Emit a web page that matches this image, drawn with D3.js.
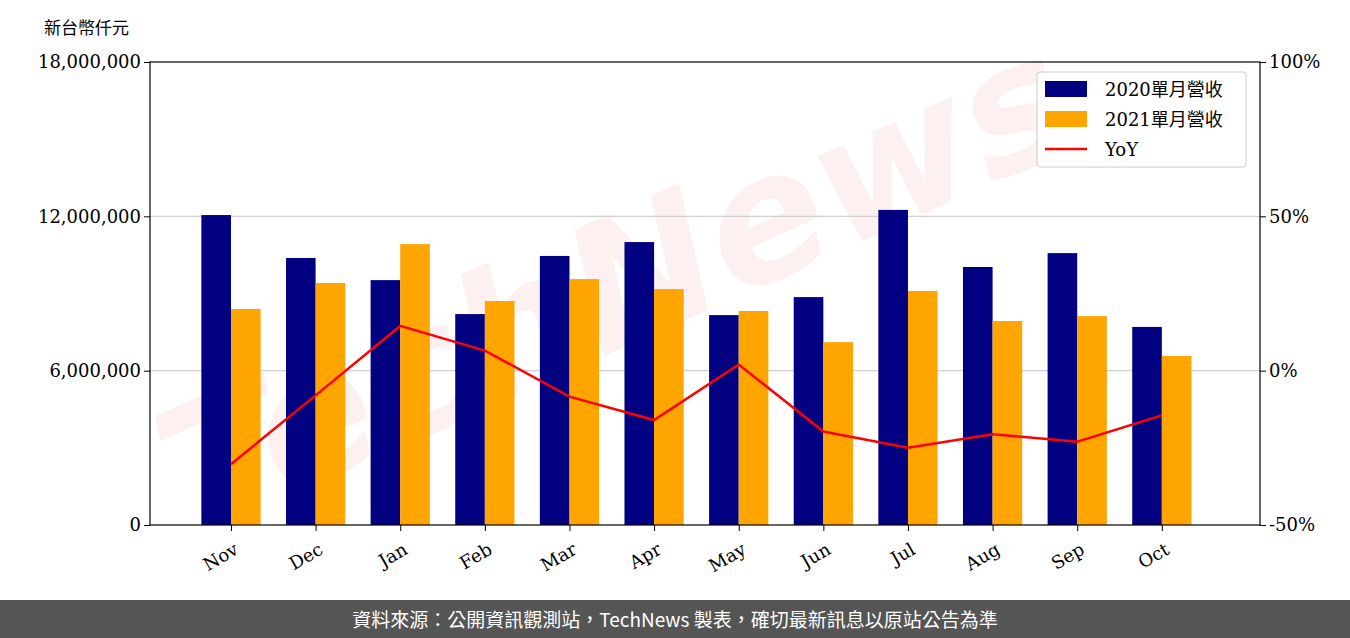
<!DOCTYPE html>
<html><head><meta charset="utf-8">
<script src="https://cdn.jsdelivr.net/npm/d3@7"></script>
<style>body{margin:0;background:#fff}text{font-family:"DejaVu Serif",serif}</style>
</head><body><svg id="c" width="1350" height="638"></svg>
<script>
const months = ["Nov","Dec","Jan","Feb","Mar","Apr","May","Jun","Jul","Aug","Sep","Oct"];
const rev2020 = [12050000,10380000,9520000,8200000,10460000,11000000,8160000,8860000,12250000,10030000,10570000,7700000];
const rev2021 = [8400000,9410000,10920000,8710000,9560000,9170000,8320000,7110000,9100000,7930000,8120000,6570000];
const yoy = [-30.3,-8,14.5,6.5,-8.4,-16,2,-19.7,-25,-20.6,-23,-14.5];
const leftTicks = [0,6000000,12000000,18000000];
const rightTicks = [-50,0,50,100];

const svg = d3.select("#c");
const L = 150, R = 1260, T = 62, B = 525;
const x = d3.scaleLinear().domain([-0.957, 12.16]).range([L, R]);
const y = d3.scaleLinear().domain([0, 18000000]).range([B, T]);
const y2 = d3.scaleLinear().domain([-50, 100]).range([B, T]);
const bw = x(0.35) - x(0);

// watermark
svg.append("text").attr("transform", "translate(640,340) rotate(-24)")
  .attr("text-anchor", "middle").attr("font-size", 175).attr("font-style", "italic")
  .attr("font-weight", "bold").style("font-family", "DejaVu Sans")
  .attr("fill", "rgba(215,60,60,0.08)").text("TechNews");

svg.append("g").selectAll("line").data([6000000, 12000000]).join("line")
  .attr("x1", L).attr("x2", R).attr("y1", d => y(d)).attr("y2", d => y(d))
  .attr("stroke", "#d0d0d0").attr("stroke-width", 1.2);

svg.append("g").selectAll("rect").data(rev2020).join("rect")
  .attr("x", (d, i) => x(i) - bw).attr("width", bw).attr("y", d => y(d)).attr("height", d => B - y(d)).attr("fill", "#000080");
svg.append("g").selectAll("rect").data(rev2021).join("rect")
  .attr("x", (d, i) => x(i)).attr("width", bw).attr("y", d => y(d)).attr("height", d => B - y(d)).attr("fill", "#ffa500");

svg.append("path").datum(yoy)
  .attr("d", d3.line().x((d, i) => x(i)).y(d => y2(d)))
  .attr("fill", "none").attr("stroke", "#ff0000").attr("stroke-width", 2.5);

svg.append("rect").attr("x", L).attr("y", T).attr("width", R - L).attr("height", B - T)
  .attr("fill", "none").attr("stroke", "#000").attr("stroke-width", 1.2);

const ax = svg.append("g").attr("transform", `translate(${L},0)`)
  .call(d3.axisLeft(y).tickValues(leftTicks).tickFormat(d3.format(",")).tickSizeOuter(0));
ax.select(".domain").remove();
ax.selectAll("text").attr("font-size", 18).style("font-family", "DejaVu Serif");
const ar = svg.append("g").attr("transform", `translate(${R},0)`)
  .call(d3.axisRight(y2).tickValues(rightTicks).tickFormat(d => d + "%").tickSizeOuter(0));
ar.select(".domain").remove();
ar.selectAll("text").attr("font-size", 18).style("font-family", "DejaVu Serif");
const ab = svg.append("g").attr("transform", `translate(0,${B})`)
  .call(d3.axisBottom(x).tickValues(d3.range(12)).tickFormat(i => months[i]).tickSizeOuter(0));
ab.select(".domain").remove();
ab.selectAll("text").attr("font-size", 18).style("font-family", "DejaVu Serif")
  .attr("text-anchor", "end").attr("x", 0).attr("y", 0)
  .attr("transform", "translate(0,14) rotate(-30)").attr("dy", "0.9em");

svg.append("text").attr("x", 44).attr("y", 34).attr("font-size", 17)
  .style("font-family", "Noto Sans CJK TC").text("新台幣仟元");

const lg = svg.append("g").attr("transform", "translate(1037,72)");
lg.append("rect").attr("width", 209).attr("height", 95).attr("rx", 3).attr("fill", "#fff").attr("fill-opacity", 0.85).attr("stroke", "#ccc");
const items = [["2020單月營收", "#000080", "rect"], ["2021單月營收", "#ffa500", "rect"], ["YoY", "#ff0000", "line"]];
items.forEach((it, i) => {
  const yy = 17 + i * 30;
  if (it[2] === "rect") lg.append("rect").attr("x", 8).attr("y", yy - 8).attr("width", 42).attr("height", 16).attr("fill", it[1]);
  else lg.append("line").attr("x1", 8).attr("x2", 50).attr("y1", yy).attr("y2", yy).attr("stroke", it[1]).attr("stroke-width", 2.5);
  lg.append("text").attr("x", 68).attr("y", yy + 7).attr("font-size", 18).style("font-family", "DejaVu Serif, Noto Sans CJK TC").text(it[0]);
});

svg.append("rect").attr("x", 0).attr("y", 600).attr("width", 1350).attr("height", 38).attr("fill", "#555");
svg.append("text").attr("x", 675).attr("y", 627).attr("text-anchor", "middle").attr("fill", "#fff")
  .attr("font-size", 19).style("font-family", "Noto Sans CJK TC")
  .text("資料來源：公開資訊觀測站，TechNews 製表，確切最新訊息以原站公告為準");
</script></body></html>
